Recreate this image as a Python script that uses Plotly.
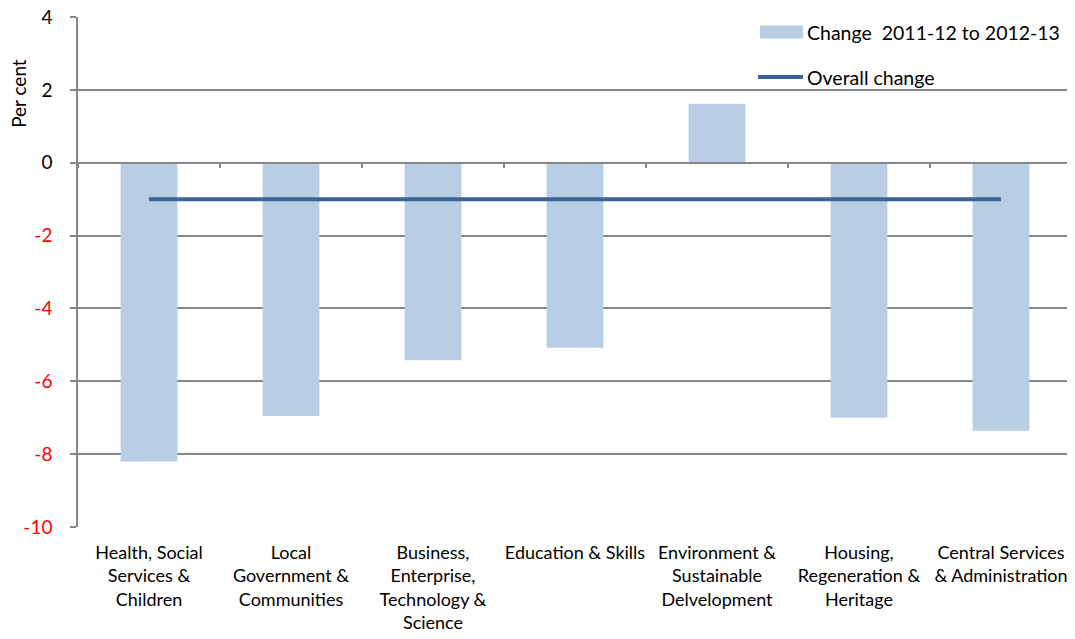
import plotly.graph_objects as go

categories = [
    "Health, Social<br>Services &<br>Children",
    "Local<br>Government &<br>Communities",
    "Business,<br>Enterprise,<br>Technology &<br>Science",
    "Education & Skills",
    "Environment &<br>Sustainable<br>Delvelopment",
    "Housing,<br>Regeneration &<br>Heritage",
    "Central Services<br>& Administration",
]
change_values = [-8.2, -6.95, -5.42, -5.08, 1.62, -7.0, -7.36]
overall_values = [-1.0, -1.0, -1.0, -1.0, -1.0, -1.0, -1.0]
y_ticks = [-10, -8, -6, -4, -2, 0, 2, 4]

bar_name = "Change  2011-12 to 2012-13"
line_name = "Overall change"

BAR_COLOR = "#B9CDE5"
LINE_COLOR = "#3B6496"
GRID = "#878787"
FONT = "Lato"

pos = list(range(len(categories)))
bounds = [p - 0.5 for p in pos] + [pos[-1] + 0.5]

y_ticktext = [
    (f"<span style='color:#FF0000'>{v}</span>" if v < 0 else str(v)) for v in y_ticks
]

fig = go.Figure()
fig.add_trace(go.Bar(
    x=pos, y=change_values, name=bar_name,
    marker=dict(color=BAR_COLOR, line=dict(width=0)),
    showlegend=False,
))
fig.add_trace(go.Scatter(
    x=pos, y=overall_values, name=line_name, mode="lines",
    line=dict(color=LINE_COLOR, width=4),
    xaxis="x2", showlegend=False,
))

# page body has an 8px margin; figure size/margins compensate for it
fig.update_layout(
    width=1067, height=631,
    margin=dict(l=70, r=3, t=9, b=112),
    paper_bgcolor="white", plot_bgcolor="white",
    font=dict(family=FONT, size=18, color="#000000"),
    bargap=0.6,
    xaxis=dict(
        range=[-0.5, len(categories) - 0.5],
        tickmode="array", tickvals=pos, ticktext=categories,
        ticks="", showgrid=False, zeroline=False,
        showline=False, ticklabelstandoff=13,
        tickfont=dict(family=FONT, size=18, color="#000000"),
        ticklabeloverflow="allow",
        automargin=False, fixedrange=True,
    ),
    xaxis2=dict(
        range=[-0.5, len(categories) - 0.5],
        overlaying="x", anchor="free", position=10 / 14,
        tickmode="array", tickvals=bounds, showticklabels=False,
        ticks="outside", ticklen=5, tickcolor=GRID, tickwidth=1.5,
        showgrid=False, zeroline=False, showline=True,
        linecolor=GRID, linewidth=1.5, automargin=False,
    ),
    yaxis=dict(
        range=[-10, 4],
        tickmode="array", tickvals=y_ticks, ticktext=y_ticktext,
        showgrid=True, gridcolor=GRID, gridwidth=1.5,
        zeroline=False,
        showline=True, linecolor=GRID, linewidth=1.5,
        ticks="outside", ticklen=6, tickcolor=GRID, tickwidth=1.5,
        ticklabelstandoff=14, ticklabeloverflow="allow",
        tickfont=dict(family=FONT, size=19, color="#000000"),
        automargin=False,
    ),
)

# Y-axis title placed near top like the original
fig.add_annotation(
    text="Per cent", textangle=-90, xref="paper", yref="paper",
    x=-0.0595, y=0.851, showarrow=False,
    font=dict(family=FONT, size=19, color="#000000"),
    xanchor="center", yanchor="middle",
)

# Legend (drawn manually to match swatch shapes)
lx0, lx1 = (760 - 78) / 994, (803 - 78) / 994
row1 = (527 - 32) / 510
row2 = (527 - 77) / 510
fig.add_shape(type="rect", xref="paper", yref="paper",
              x0=lx0, x1=lx1, y0=row1 - 6.5 / 510, y1=row1 + 6.5 / 510,
              fillcolor=BAR_COLOR, line=dict(width=0))
fig.add_shape(type="line", xref="paper", yref="paper",
              x0=(758 - 78) / 994, x1=lx1, y0=row2, y1=row2,
              line=dict(color=LINE_COLOR, width=4))
fig.add_annotation(text=bar_name, xref="paper", yref="paper",
                   x=(805 - 78) / 994, y=row1, xanchor="left", yanchor="middle",
                   showarrow=False, font=dict(family=FONT, size=19.5, color="#000000"))
fig.add_annotation(text=line_name, xref="paper", yref="paper",
                   x=(805 - 78) / 994, y=row2, xanchor="left", yanchor="middle",
                   showarrow=False, font=dict(family=FONT, size=19.5, color="#000000"))

fig.write_html("out.html")
